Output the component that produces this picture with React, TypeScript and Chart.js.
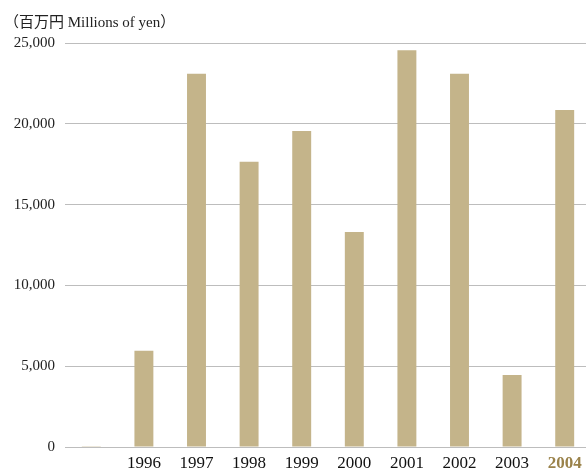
import React, { useEffect, useRef } from "react";
import { Chart, registerables } from "chart.js";

Chart.register(...registerables);

const years = ["", "1996", "1997", "1998", "1999", "2000", "2001", "2002", "2003", "2004"];
const values = [50, 5950, 23100, 17650, 19550, 13300, 24550, 23100, 4450, 20850];
const yTicks = [0, 5000, 10000, 15000, 20000, 25000];
const unitLabel = "（百万円 Millions of yen）";

const BAR = "#c4b48a";
const GRID = "#bdbdbd";
const HIGHLIGHT = "#9a824a";
const SERIF = "'Liberation Serif', 'Noto Sans CJK JP', serif";

export default function App() {
  const ref = useRef<HTMLCanvasElement | null>(null);

  useEffect(() => {
    document.body.style.margin = "0";
    document.body.style.overflow = "hidden";
    const canvas = ref.current;
    if (!canvas) return;

    const titlePlugin = {
      id: "unitTitle",
      afterDraw(chart: any) {
        const ctx = chart.ctx;
        ctx.save();
        ctx.font = `15px ${SERIF}`;
        ctx.fillStyle = "#222";
        ctx.textBaseline = "middle";
        ctx.textAlign = "left";
        ctx.fillText(unitLabel, 4, 23);
        ctx.restore();
      },
    };

    const chart = new Chart(canvas, {
      type: "bar",
      data: {
        labels: years,
        datasets: [
          {
            data: values,
            backgroundColor: BAR,
            borderWidth: 0,
            barPercentage: 0.36,
            categoryPercentage: 1,
          },
        ],
      },
      options: {
        animation: false,
        responsive: false,
        maintainAspectRatio: false,
        layout: { padding: { top: 43, right: 0, bottom: 0, left: 0 } },
        plugins: {
          legend: { display: false },
          tooltip: { enabled: false },
          title: { display: false },
        },
        scales: {
          x: {
            grid: { display: false, drawTicks: false },
            border: { display: true, color: GRID, width: 1 },
            ticks: {
              padding: 6,
              maxRotation: 0,
              autoSkip: false,
              font: (c: any) => ({
                family: SERIF,
                size: 17,
                weight: years[c.index] === "2004" ? "bold" : "normal",
              }),
              color: (c: any) => (years[c.index] === "2004" ? HIGHLIGHT : "#111"),
            },
            afterFit: (scale: any) => {
              scale.height = 24;
            },
          },
          y: {
            min: 0,
            max: 25000,
            grid: { color: GRID, lineWidth: 1, drawTicks: false },
            border: { display: false },
            afterBuildTicks: (scale: any) => {
              scale.ticks = yTicks.map((v) => ({ value: v }));
            },
            ticks: {
              padding: 10,
              color: "#222",
              font: { family: SERIF, size: 15 },
              callback: (v: any) => Number(v).toLocaleString("en-US"),
            },
            afterFit: (scale: any) => {
              scale.width = 65;
            },
          },
        },
      },
      plugins: [titlePlugin],
    });

    return () => chart.destroy();
  }, []);

  return (
    <div style={{ position: "absolute", left: 0, top: 0, width: 586, height: 471, overflow: "hidden" }}>
      <canvas ref={ref} width={591} height={471} style={{ display: "block", width: 591, height: 471 }} />
    </div>
  );
}
